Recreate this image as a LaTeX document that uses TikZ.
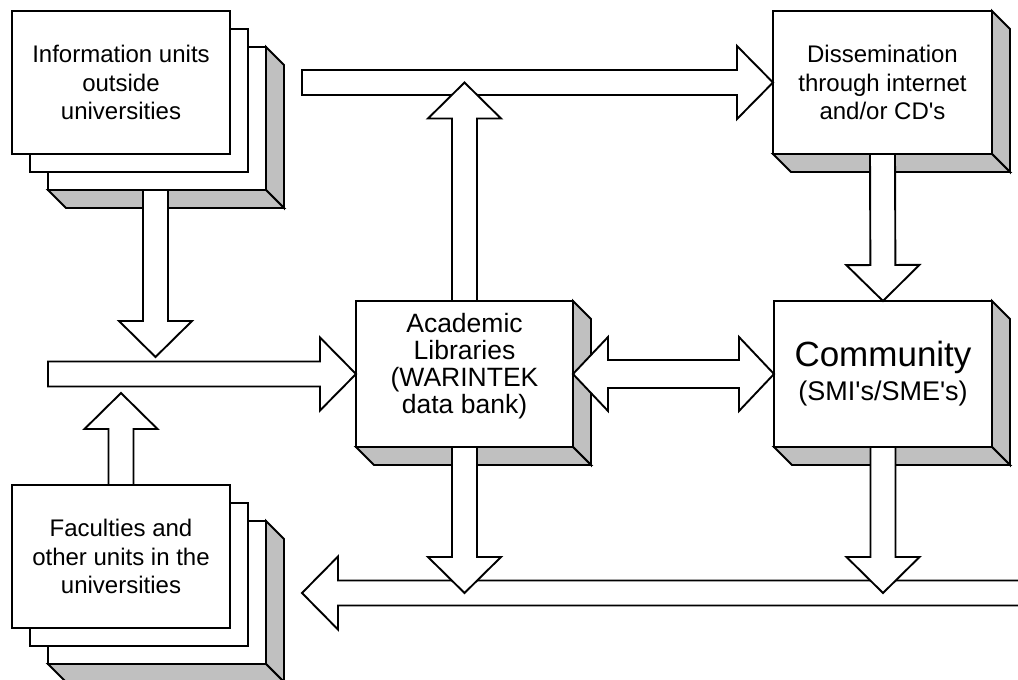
\documentclass[tikz,border=0pt]{standalone}
\usepackage{fontspec}
\setmainfont{Liberation Sans}[Ligatures=TeXOff]
\usepackage{xcolor}
\usetikzlibrary{calc, positioning}

\definecolor{sidegray}{RGB}{192,192,192}

% gray depth faces at the right and bottom of a box
\newcommand{\boxdepth}[1]{%
  \filldraw[face] (#1.north east) -- ++(18,18) -- ($(#1.south east)+(18,18)$) -- (#1.south east) -- cycle;
  \filldraw[face] (#1.south west) -- ++(18,18) -- ($(#1.south east)+(18,18)$) -- (#1.south east) -- cycle;
}

% block arrow from #1 to the tip #2
\newcommand{\fatarrow}[2]{%
  \coordinate (hb) at ($(#2)!36pt!(#1)$);
  \filldraw[blockarrow] ($(#1)!12.5pt!90:(#2)$) -- ($(hb)!12.5pt!90:(#2)$) -- ($(hb)!36.5pt!90:(#2)$) -- (#2)
    -- ($(hb)!36.5pt!-90:(#2)$) -- ($(hb)!12.5pt!-90:(#2)$) -- ($(#1)!12.5pt!-90:(#2)$) -- cycle;
}

% block arrow with a head at both ends
\newcommand{\twinarrow}[2]{%
  \coordinate (ha) at ($(#1)!35pt!(#2)$);
  \coordinate (hb) at ($(#2)!35pt!(#1)$);
  \filldraw[blockarrow] (#1) -- ($(ha)!37pt!90:(#2)$) -- ($(ha)!14pt!90:(#2)$) -- ($(hb)!14pt!90:(#2)$)
    -- ($(hb)!37pt!90:(#2)$) -- (#2) -- ($(hb)!37pt!-90:(#2)$) -- ($(hb)!14pt!-90:(#2)$)
    -- ($(ha)!14pt!-90:(#2)$) -- ($(ha)!37pt!-90:(#2)$) -- cycle;
}

\begin{document}
\begin{tikzpicture}[
  x=1pt, y=-1pt,
  line width=1.9pt,
  line join=miter,
  font=\fontsize{24}{28.5}\selectfont,
  cardnode/.style={
    draw,
    fill=white,
    rectangle,
    align=center,
    outer sep=0pt,
    minimum width=218pt,
    minimum height=143pt
  },
  face/.style={fill=sidegray, draw=black},
  blockarrow/.style={fill=white, draw=black}
]
\useasboundingbox (0,0) rectangle (1018,680);
\clip (0,0) rectangle (1018,680);

% Stacked boxes
\node[cardnode] (info3) at (157,118.5) {};
\boxdepth{info3}
\node[cardnode] (info2) at (139,100.5) {};
\node[cardnode] (info) at (121,82.5) {Information units\\outside\\universities};

\node[cardnode] (fac3) at (157,592.5) {};
\boxdepth{fac3}
\node[cardnode] (fac2) at (139,574.5) {};
\node[cardnode] (fac) at (121,556.5) {Faculties and\\other units in the\\universities};

% Boxes
\node[cardnode, minimum width=219pt] (dis) at (882.5,82.5) {Dissemination\\through internet\\and/or CD's};
\boxdepth{dis}
\node[cardnode, minimum width=217pt, minimum height=146pt,
  label={[align=center, yshift=8pt, font=\fontsize{26.5}{27}\selectfont]center:Academic\\Libraries\\(WARINTEK\\data bank)}]
  (lib) at (464.5,374) {};
\boxdepth{lib}
\node[cardnode, minimum height=146pt,
  font=\fontsize{27}{34}\selectfont] (com) at (883,374) {{\fontsize{35}{36}\selectfont Community}\\(SMI's/SME's)};
\boxdepth{com}

% Ends of the arrows
\coordinate (infotip) at (155.5,357);
\coordinate (factip) at (121,393);
\coordinate (midstart) at (48,374);
\coordinate (topstart) at (302,82.5);
\coordinate (botstart) at (1040,593);
\coordinate (bottip) at (302,593);

% Arrows
\fatarrow{infotip |- info3.south}{infotip}
\fatarrow{fac.north}{factip}
\fatarrow{midstart}{lib.west}
\fatarrow{topstart}{dis.west}
\fatarrow{lib.north}{lib.north |- topstart}
\fatarrow{dis.south}{com.north}
\twinarrow{lib.east}{com.west}
\fatarrow{botstart}{bottip}
\fatarrow{lib.south}{lib.south |- bottip}
\fatarrow{com.south}{com.south |- bottip}

\end{tikzpicture}
\end{document}
